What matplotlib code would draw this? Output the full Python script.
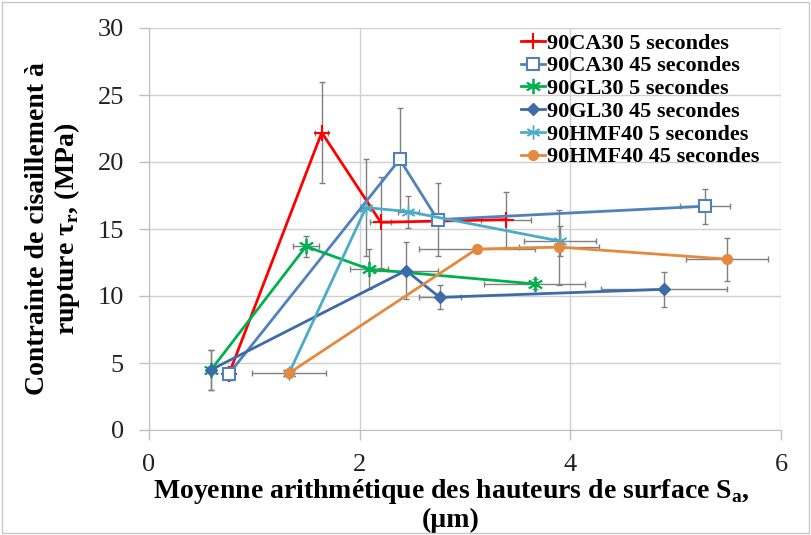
import matplotlib
matplotlib.use("Agg")
import matplotlib.pyplot as plt
from matplotlib.patches import Rectangle

# ---- data ----
ca30_5_x = [0.76, 1.64, 2.20, 3.39]
ca30_5_y = [4.2, 22.2, 15.5, 15.7]
ca30_5_xerr = [0.04, 0.06, 0.10, 0.24]
ca30_5_yerr = [0.5, 3.8, 3.4, 2.05]

ca30_45_x = [0.76, 2.38, 2.74, 5.28]
ca30_45_y = [4.2, 20.2, 15.7, 16.7]
ca30_45_xerr = [0.04, 0.05, 0.05, 0.24]
ca30_45_yerr = [0.5, 3.8, 2.7, 1.3]

gl30_5_x = [0.59, 1.49, 2.09, 3.66]
gl30_5_y = [4.5, 13.7, 12.0, 10.9]
gl30_5_xerr = [0.03, 0.12, 0.18, 0.48]
gl30_5_yerr = [1.5, 0.8, 1.5, 0.4]

gl30_45_x = [0.59, 2.44, 2.76, 4.89]
gl30_45_y = [4.5, 11.9, 9.9, 10.5]
gl30_45_xerr = [0.03, 0.30, 0.20, 0.60]
gl30_45_yerr = [1.5, 2.1, 0.9, 1.3]

hmf40_5_x = [1.33, 2.06, 2.46, 3.90]
hmf40_5_y = [4.25, 16.6, 16.3, 14.1]
hmf40_5_xerr = [0.05, 0.05, 0.10, 0.34]
hmf40_5_yerr = [0.3, 3.6, 1.2, 1.1]

hmf40_45_x = [1.33, 3.11, 3.89, 5.49]
hmf40_45_y = [4.25, 13.5, 13.65, 12.75]
hmf40_45_xerr = [0.35, 0.55, 0.38, 0.39]
hmf40_45_yerr = [0.2, 0.3, 2.8, 1.6]

labels = ["90CA30 5 secondes", "90CA30 45 secondes", "90GL30 5 secondes",
          "90GL30 45 secondes", "90HMF40 5 secondes", "90HMF40 45 secondes"]

serif = ["Liberation Serif", "DejaVu Serif"]

W, H = 811, 535
fig = plt.figure(figsize=(W / 100, H / 100), dpi=100)
ax = fig.add_axes([149/W, 1 - 430/H, (781-149)/W, (430-28)/H])

series = [
    (ca30_5_x, ca30_5_y, ca30_5_xerr, ca30_5_yerr, "#FF0000", "+", dict(markersize=12, markeredgewidth=1.5)),
    (ca30_45_x, ca30_45_y, ca30_45_xerr, ca30_45_yerr, "#4F81BD", "s", dict(markersize=8, markerfacecolor="white", markeredgewidth=1.5)),
    (gl30_5_x, gl30_5_y, gl30_5_xerr, gl30_5_yerr, "#00B050", (6, 2, 0), dict(markersize=11, markeredgewidth=1.3)),
    (gl30_45_x, gl30_45_y, gl30_45_xerr, gl30_45_yerr, "#3C6BAA", "D", dict(markersize=6)),
    (hmf40_5_x, hmf40_5_y, hmf40_5_xerr, hmf40_5_yerr, "#4BACC6", (6, 2, 0), dict(markersize=10, markeredgewidth=1.0)),
    (hmf40_45_x, hmf40_45_y, hmf40_45_xerr, hmf40_45_yerr, "#E4893E", "o", dict(markersize=7)),
]

handles = []
for (x, y, xe, ye, c, m, kw), lab in zip(series, labels):
    ax.errorbar(x, y, xerr=xe, yerr=ye, fmt="none", ecolor="#808080",
                elinewidth=1.0, capsize=2.5, capthick=1.0, zorder=2)
    kw2 = dict(kw)
    kw2.setdefault("markeredgecolor", c)
    kw2.setdefault("markerfacecolor", c)
    h, = ax.plot(x, y, color=c, marker=m, linewidth=2.0, label=lab, zorder=3, **kw2)
    handles.append(h)

ax.set_xlim(0, 6)
ax.set_ylim(0, 30)
ax.set_xticks([0, 2, 4, 6])
ax.set_yticks([0, 5, 10, 15, 20, 25, 30])
ax.grid(True, color="#D0D0D0", linewidth=1.0)
ax.set_axisbelow(True)
for s in ["top", "right"]:
    ax.spines[s].set_visible(False)
for s in ["left", "bottom"]:
    ax.spines[s].set_color("#BFBFBF")
ax.tick_params(axis="both", colors="#BFBFBF", length=7, width=1, labelcolor="#222222",
               labelsize=19)
ax.tick_params(axis="x", pad=10)
ax.tick_params(axis="y", pad=11)
for lbl in ax.get_xticklabels() + ax.get_yticklabels():
    lbl.set_fontfamily(serif)

ax.set_ylabel("Contrainte de cisaillement à\nrupture τ$_\\mathregular{r}$, (MPa)",
              fontsize=20, fontweight="bold", fontfamily=serif, labelpad=11, linespacing=1.1)
ax.set_xlabel("Moyenne arithmétique des hauteurs de surface S$_\\mathregular{a}$,\n(µm)",
              fontsize=20, fontweight="bold", fontfamily=serif, labelpad=1, linespacing=1.1)
ax.xaxis.label.set_x((451 - 149) / 632)

leg = ax.legend(handles=handles, loc="upper left",
                bbox_to_anchor=(521 / W, 1 - 33 / H), bbox_transform=fig.transFigure,
                frameon=False, prop=dict(family=serif, weight="bold", size=16),
                handlelength=1.1, handletextpad=0.05, labelspacing=0.1,
                borderaxespad=0, borderpad=0)

fig.patches.append(Rectangle((0.003, 0.003), 0.994, 0.994, transform=fig.transFigure,
                             fill=False, edgecolor="#C8C8C8", linewidth=1.0))

fig.savefig("out.png", dpi=100)
